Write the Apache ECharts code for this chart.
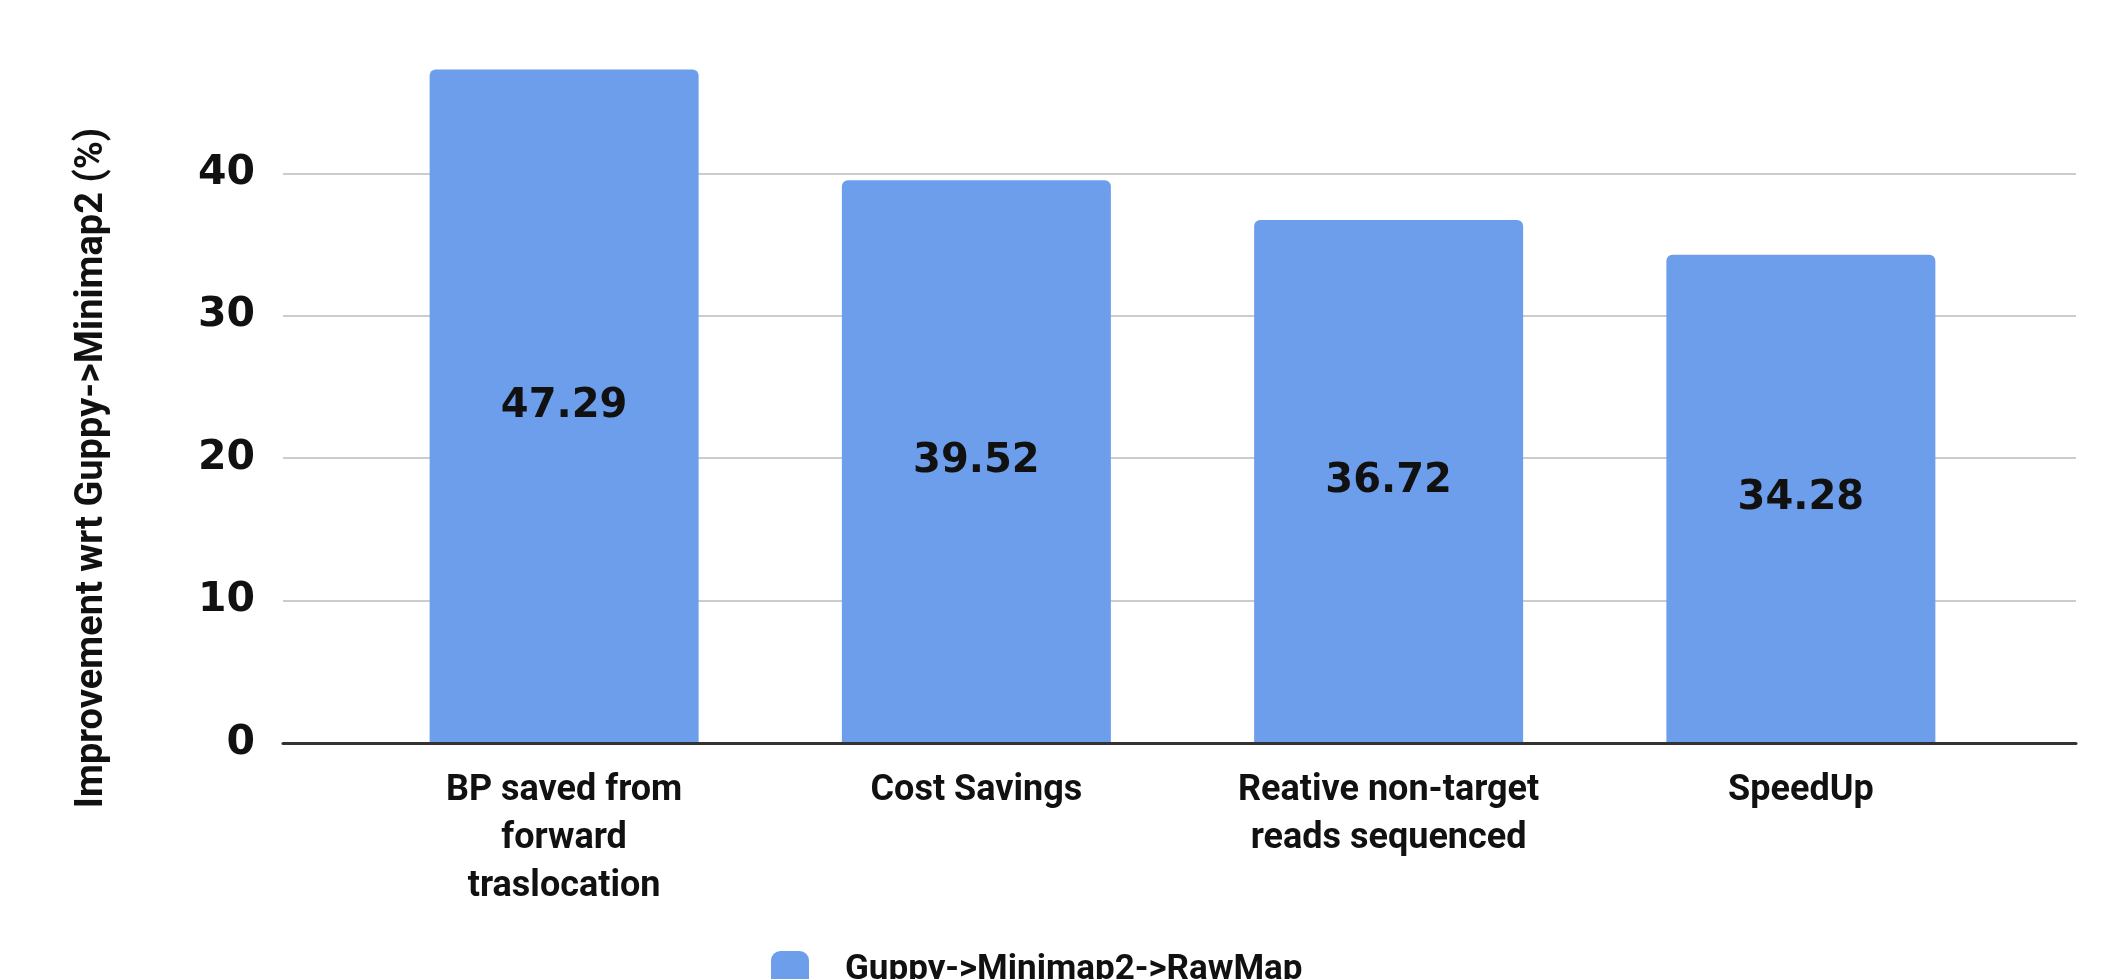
<!DOCTYPE html>
<html>
<head>
<meta charset="utf-8">
<title>Improvement wrt Guppy->Minimap2</title>
<script src="https://cdn.jsdelivr.net/npm/echarts@6.0.0/dist/echarts.min.js"></script>
<style>
  html, body { margin: 0; padding: 0; background: #fff; }
  .chart { width: 2114px; height: 979px; }
</style>
</head>
<body>
<!-- chart container -->
<div class="chart" id="chart"></div>

<script>
// data
const categories = [
  "BP saved from\nforward\ntraslocation",
  "Cost Savings",
  "Reative non-target\nreads sequenced",
  "SpeedUp",
];
const seriesName = "Guppy->Minimap2->RawMap";
const values = [47.29, 39.52, 36.72, 34.28];
const yTicks = [0, 10, 20, 30, 40];

const barColor = "#6d9eeb";
const yMax = 50;

const myChart = echarts.init(document.querySelector("#chart"));
myChart.setOption({
  animation: false,
  // grid 0 carries gridlines, tick labels and baseline; grid 1 holds the bars
  grid: [
    { left: 283, right: 38, top: 31, bottom: 236 },
    { left: 358, right: 107, top: 31, bottom: 236 },
  ],
  legend: {
    data: [seriesName],
    left: 766,
    top: 946,
    icon: "roundRect",
    itemWidth: 38,
    itemHeight: 38,
    textStyle: {
      fontFamily: "Roboto",
      fontWeight: "bold",
      fontSize: 35,
      color: "#111",
      padding: [0, 0, 0, 31],
    },
  },
  xAxis: [
    {
      gridIndex: 0,
      type: "category",
      data: categories,
      z: 5,
      axisLine: { show: true, lineStyle: { color: "#333", width: 3 } },
      axisTick: { show: false },
      axisLabel: { show: false },
    },
    {
      gridIndex: 1,
      type: "category",
      data: categories,
      axisLine: { show: false },
      axisTick: { show: false },
      axisLabel: {
        interval: 0,
        margin: 24,
        fontFamily: "Roboto",
        fontWeight: "bold",
        fontSize: 36,
        lineHeight: 48,
        color: "#111",
      },
    },
  ],
  yAxis: [
    {
      gridIndex: 0,
      type: "value",
      min: yTicks[0],
      max: yMax,
      interval: yTicks[1] - yTicks[0],
      name: "Improvement wrt Guppy->Minimap2 (%)",
      nameLocation: "middle",
      nameGap: 172,
      nameTextStyle: {
        fontFamily: "Roboto",
        fontWeight: "bold",
        fontSize: 38,
        color: "#111",
        padding: [0, 162, 0, 0],
      },
      axisLine: { show: false },
      axisTick: { show: false },
      axisLabel: {
        margin: 28,
        showMaxLabel: false,
        fontFamily: "DejaVu Sans",
        fontWeight: "bold",
        fontSize: 41,
        color: "#111",
      },
      splitLine: {
        showMaxLine: false,
        lineStyle: { color: "#cccccc", width: 2 },
      },
    },
    {
      gridIndex: 1,
      type: "value",
      min: yTicks[0],
      max: yMax,
      show: false,
      splitLine: { show: false },
    },
  ],
  series: [
    {
      name: seriesName,
      type: "bar",
      xAxisIndex: 1,
      yAxisIndex: 1,
      data: values,
      barWidth: 269,
      itemStyle: {
        color: barColor,
        borderRadius: [6, 6, 0, 0],
      },
      label: {
        show: true,
        position: "inside",
        fontFamily: "DejaVu Sans",
        fontWeight: "bold",
        fontSize: 40,
        color: "#111",
        formatter: (p) => p.value.toFixed(2),
      },
    },
  ],
});
</script>
</body>
</html>
